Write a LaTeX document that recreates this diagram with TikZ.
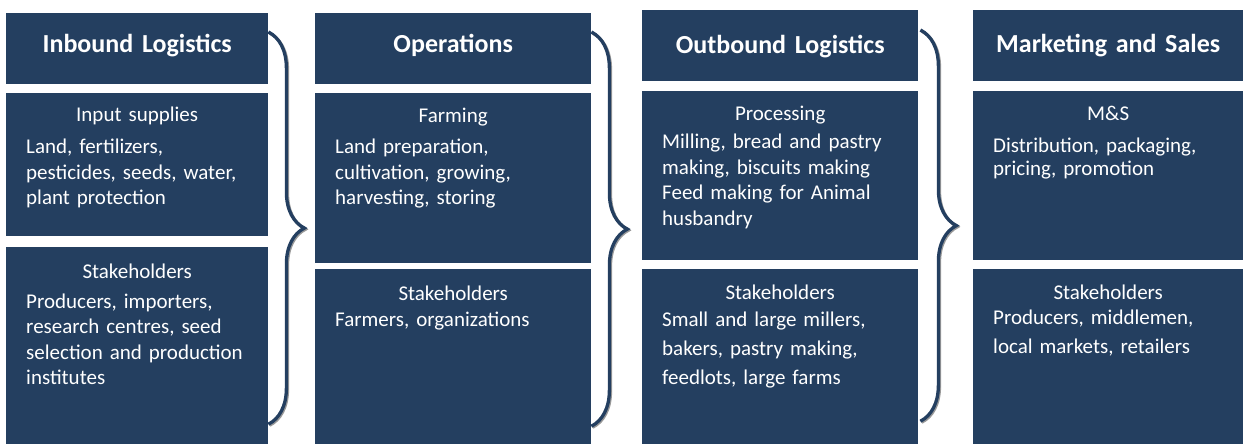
\documentclass[tikz,border=0pt]{standalone}
\usepackage{fontspec}
\setmainfont{Carlito}
\usetikzlibrary{positioning, decorations.pathreplacing}

\definecolor{navy}{HTML}{243F60}

\tikzset{
  titlebox/.style = {fill=navy, text=white, anchor=north west, inner sep=0pt,
    text width=#1, align=center, text height=39pt, text depth=32pt,
    font=\bfseries\fontsize{26}{30}\selectfont},
  textbox/.style = {fill=navy, text=white, anchor=north west, inner xsep=20pt,
    inner ysep=0pt, text width=#1, align=left,
    font=\fontsize{21}{25.5}\selectfont},
  curly/.style = {draw=navy, line width=3.3pt, decorate,
    decoration={brace, amplitude=36pt}},
  curlyshade/.style = {draw=black!40, line width=3pt, decorate,
    decoration={brace, amplitude=36pt},
    transform canvas={xshift=1.2pt, yshift=-1.2pt}}
}

\begin{document}
\begin{tikzpicture}[x=1pt, y=1pt]

  \useasboundingbox (0,0) rectangle (1243,-444);

  %% Inbound logistics
  \node[titlebox=262pt] (ib-head) at (6,-13) {Inbound Logistics};
  \node[textbox=222pt, text height=29pt, text depth=114pt, below=8pt of ib-head] (ib-input)
    {\makebox[\linewidth]{Input supplies}\\[6.5pt]
     Land, fertilizers,\\ pesticides, seeds, water,\\ plant protection};
  \node[textbox=222pt, text height=31pt, text depth=167pt, below=11pt of ib-input] (ib-stake)
    {\makebox[\linewidth]{Stakeholders}\\[4.5pt]
     Producers, importers,\\ research centres, seed\\ selection and production\\ institutes};

  %% Operations
  \node[titlebox=276pt] (op-head) at (315,-13) {Operations};
  \node[textbox=236pt, text height=30pt, text depth=140pt, below=8pt of op-head] (op-farm)
    {\makebox[\linewidth]{Farming}\\[5.5pt]
     Land preparation,\\ cultivation, growing,\\ harvesting, storing};
  \node[textbox=236pt, text height=31pt, text depth=145pt, below=6pt of op-farm] (op-stake)
    {\makebox[\linewidth]{Stakeholders}\\[0.5pt]
     Farmers, organizations};

  %% Outbound logistics
  \node[titlebox=276pt, text height=43pt, text depth=28pt] (ob-head) at (642,-10) {Outbound Logistics};
  \node[textbox=236pt, text height=30pt, text depth=139pt, below=9pt of ob-head] (ob-proc)
    {\makebox[\linewidth]{Processing}\\[2.5pt]
     Milling, bread and pastry\\ making, biscuits making\\ Feed making for Animal\\ husbandry};
  \node[textbox=236pt, text height=30pt, text depth=146pt, below=9pt of ob-proc,
        font=\fontsize{21}{29}\selectfont] (ob-stake)
    {\makebox[\linewidth]{Stakeholders}\\[-2pt]
     Small and large millers,\\ bakers, pastry making,\\ feedlots, large farms};

  %% Marketing and sales
  \node[titlebox=270pt, text height=42pt, text depth=29pt] (ms-head) at (973,-10) {Marketing and Sales};
  \node[textbox=230pt, text height=30pt, text depth=139pt, below=9pt of ms-head,
        font=\fontsize{21}{23}\selectfont] (ms-mands)
    {\makebox[\linewidth]{M\&S}\\[9pt]
     Distribution, packaging,\\ pricing, promotion};
  \node[textbox=230pt, text height=30pt, text depth=146pt, below=9pt of ms-mands,
        font=\fontsize{21}{29}\selectfont] (ms-stake)
    {\makebox[\linewidth]{Stakeholders}\\[-4pt]
     Producers, middlemen,\\ local markets, retailers};

  % braces between the stages (grey shade first)
  \foreach \from/\to/\dx/\top/\bot in {ib-head/ib-stake/0/19/21, op-head/op-stake/0/19/19, ob-head/ob-stake/2/20/24} {
    \draw[curlyshade] ([xshift=\dx pt, yshift=-\top pt]\from.north east) -- ([xshift=\dx pt, yshift=\bot pt]\to.south east);
    \draw[curly] ([xshift=\dx pt, yshift=-\top pt]\from.north east) -- ([xshift=\dx pt, yshift=\bot pt]\to.south east);
  }

\end{tikzpicture}
\end{document}
